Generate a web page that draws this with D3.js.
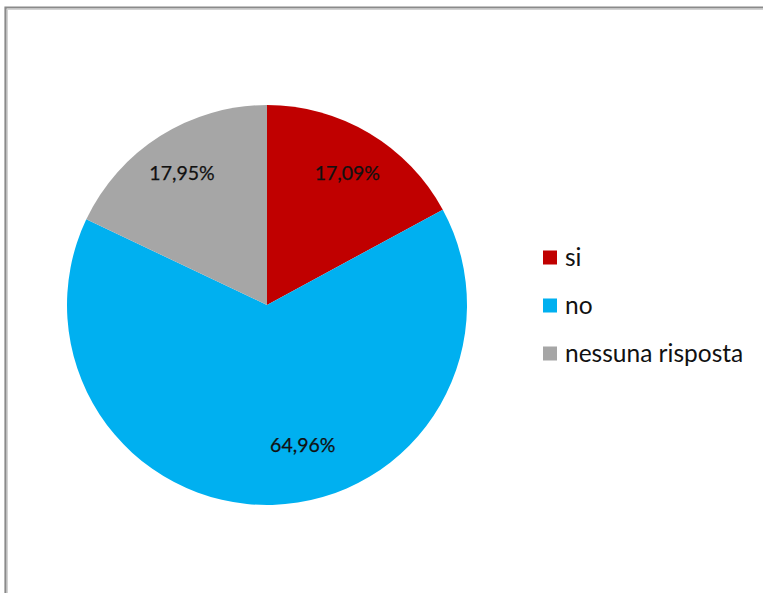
<!DOCTYPE html>
<html>
<head>
<meta charset="utf-8">
<script src="https://cdn.jsdelivr.net/npm/d3@7/dist/d3.min.js"></script>
<style>
  html, body { margin: 0; padding: 0; background: #fff; overflow: hidden; }
  svg { display: block; }
</style>
</head>
<body>
<svg id="chart" width="763" height="593"></svg>
<script>
// Survey answers, share of respondents (%)
const categories = ["si", "no", "nessuna risposta"];
const values = [17.09, 64.96, 17.95];
const labels = ["17,09%", "64,96%", "17,95%"];
const colors = ["#C00000", "#00B0F0", "#A6A6A6"];

const svg = d3.select("#chart");
const W = 763, H = 593;

// Chart area frame (open at right and bottom)
const frame = svg.append("g");
frame.append("path")
  .attr("d", `M5.5,${H + 10} V7.5 H${W + 10}`)
  .attr("fill", "none").attr("stroke", "#8a8a8a").attr("stroke-width", 2.2);
frame.append("path")
  .attr("d", `M7.3,${H + 10} V9.3 H${W + 10}`)
  .attr("fill", "none").attr("stroke", "#c8c8c8").attr("stroke-width", 1);

const cx = 267, cy = 305, R = 200;
const font = "Lato, 'Open Sans', sans-serif";

const pie = d3.pie().sort(null).value(d => d.value);
const data = categories.map((c, i) => ({ name: c, value: values[i], label: labels[i], color: colors[i] }));
const arcs = pie(data);

const arc = d3.arc().innerRadius(0).outerRadius(R);
const g = svg.append("g").attr("transform", `translate(${cx},${cy})`);

g.selectAll("path.slice")
  .data(arcs)
  .join("path")
  .attr("class", "slice")
  .attr("d", arc)
  .attr("fill", d => d.data.color);

// Data labels: small slices near the rim, the large slice further in
const labelRadius = [0.785, 0.69, 0.795];
const labelShift = [0, 32, 0];
g.selectAll("text.val")
  .data(arcs)
  .join("text")
  .attr("class", "val")
  .attr("transform", (d, i) => {
    const r = R * labelRadius[i];
    const la = d3.arc().innerRadius(r).outerRadius(r);
    const [x, y] = la.centroid(d);
    return `translate(${x + labelShift[i]},${y + 2})`;
  })
  .attr("text-anchor", "middle")
  .attr("dominant-baseline", "central")
  .attr("font-family", font)
  .attr("font-size", 19.5)
  .attr("stroke", "#111").attr("stroke-width", 0.25)
  .attr("fill", "#111")
  .text(d => d.data.label);

// Legend
const legendY = d3.scalePoint().domain(categories).range([257.5, 353.5]);
const legend = svg.append("g");
const item = legend.selectAll("g")
  .data(data)
  .join("g")
  .attr("transform", d => `translate(543,${legendY(d.name)})`);
item.append("rect")
  .attr("x", 0).attr("y", -7).attr("width", 14).attr("height", 14)
  .attr("fill", d => d.color);
item.append("text")
  .attr("x", 22).attr("y", -1)
  .attr("dominant-baseline", "central")
  .attr("font-family", font)
  .attr("font-size", 24.5)
  .attr("fill", "#111")
  .text(d => d.name);
</script>
</body>
</html>
